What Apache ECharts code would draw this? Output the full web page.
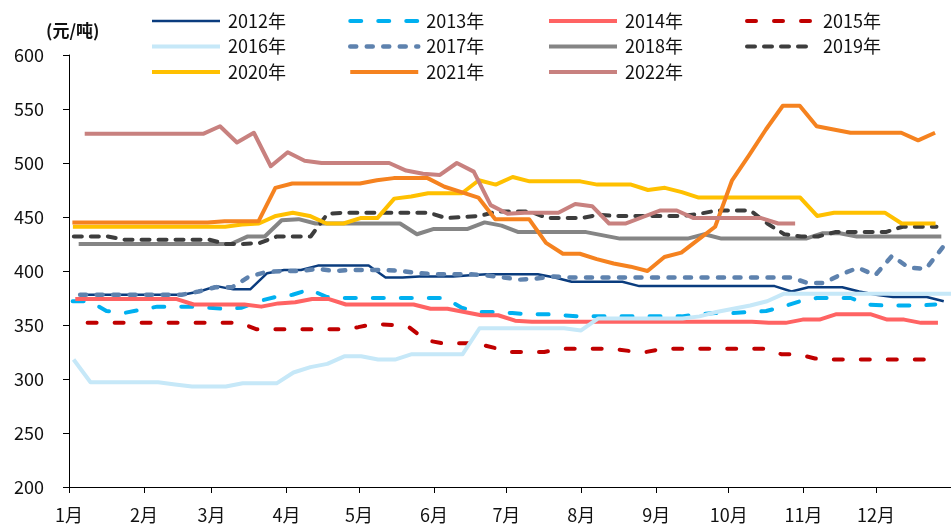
<!DOCTYPE html>
<html>
<head>
<meta charset="utf-8">
<script src="https://cdn.jsdelivr.net/npm/echarts@6/dist/echarts.min.js"></script>
<style>
  html, body { margin: 0; padding: 0; background: #fff; }
  #chart { width: 951px; height: 526px; }
</style>
</head>
<body>
<div id="chart"></div>
<script>
// Month axis: labels and day-of-year where each month starts
const monthLabels = ['1月', '2月', '3月', '4月', '5月', '6月', '7月', '8月', '9月', '10月', '11月', '12月'];
const monthStartDays = [0, 31, 59, 90, 120, 151, 181, 212, 243, 273, 304, 334];

// Year names and day-of-year of each year's first weekly quote
const yearNames = ['2012年', '2013年', '2014年', '2015年', '2016年', '2017年', '2018年', '2019年', '2020年', '2021年', '2022年'];
const firstQuoteDay = [5, 1.5, 2.6, 7.7, 1.9, 4.6, 4, 2, 1.6, 1.4, 6.5];

// Weekly prices (元/吨)
const price2012 = [378, 378, 378, 378, 378, 378, 378, 381, 386, 383, 383, 398, 401, 401, 405, 405, 405, 405, 394, 394, 395, 395, 395, 396, 397, 397, 397, 397, 394, 390, 390, 390, 390, 386, 386, 386, 386, 386, 386, 386, 386, 386, 381, 385, 385, 385, 381, 378, 376, 376, 376, 372];
const price2013 = [372, 372, 363, 361, 364, 367, 367, 367, 366, 365, 366, 372, 376, 378, 383, 376, 375, 375, 375, 375, 375, 375, 375, 366, 362, 362, 361, 360, 360, 359, 358, 358, 358, 358, 358, 358, 358, 360, 361, 361, 362, 363, 367, 372, 375, 375, 375, 369, 368, 368, 368, 369];
const price2014 = [374, 374, 374, 374, 374, 374, 374, 369, 369, 369, 369, 367, 370, 371, 374, 374, 369, 369, 369, 369, 369, 365, 365, 362, 359, 359, 354, 353, 353, 353, 353, 353, 353, 353, 353, 353, 353, 353, 353, 353, 353, 352, 352, 355, 355, 360, 360, 360, 355, 355, 352, 352];
const price2015 = [352, 352, 352, 352, 352, 352, 352, 352, 352, 352, 346, 346, 346, 346, 346, 346, 348, 351, 350, 348, 336, 333, 333, 333, 329, 325, 325, 325, 328, 328, 328, 328, 326, 325, 328, 328, 328, 328, 328, 328, 328, 323, 323, 319, 318, 318, 318, 318, 318, 318, 318];
const price2016 = [318, 297, 297, 297, 297, 297, 295, 293, 293, 293, 296, 296, 296, 306, 311, 314, 321, 321, 318, 318, 323, 323, 323, 323, 347, 347, 347, 347, 347, 347, 345, 356, 356, 356, 356, 356, 356, 358, 362, 365, 368, 372, 379, 379, 379, 379, 379, 379, 379, 379, 379, 379, 379];
const price2017 = [378, 378, 378, 378, 378, 378, 378, 381, 385, 385, 395, 399, 400, 400, 402, 400, 401, 401, 401, 400, 398, 397, 397, 397, 396, 394, 392, 393, 395, 394, 394, 394, 394, 394, 394, 394, 394, 394, 394, 394, 394, 394, 394, 389, 389, 397, 403, 396, 414, 403, 402, 422];
const price2018 = [425, 425, 425, 425, 425, 425, 425, 425, 425, 425, 432, 432, 447, 448, 444, 444, 444, 444, 444, 444, 434, 439, 439, 439, 445, 442, 436, 436, 436, 436, 436, 433, 430, 430, 430, 430, 430, 434, 430, 430, 430, 430, 430, 430, 435, 435, 432, 432, 432, 432, 432, 432];
const price2019 = [432, 432, 432, 429, 429, 429, 429, 429, 429, 425, 425, 426, 432, 432, 432, 453, 454, 454, 454, 454, 454, 454, 449, 450, 451, 455, 455, 455, 449, 449, 449, 452, 451, 451, 451, 451, 451, 453, 456, 456, 456, 444, 434, 432, 432, 436, 436, 436, 436, 441, 441, 441];
const price2020 = [441, 441, 441, 441, 441, 441, 441, 441, 441, 441, 443, 444, 451, 454, 451, 444, 444, 449, 449, 467, 469, 472, 472, 472, 484, 480, 487, 483, 483, 483, 483, 480, 480, 480, 475, 477, 473, 468, 468, 468, 468, 468, 468, 468, 451, 454, 454, 454, 454, 444, 444, 444];
const price2021 = [445, 445, 445, 445, 445, 445, 445, 445, 445, 446, 446, 446, 477, 481, 481, 481, 481, 481, 484, 486, 486, 486, 478, 473, 468, 448, 448, 448, 426, 416, 416, 411, 407, 404, 400, 413, 417, 429, 441, 484, 507, 531, 553, 553, 534, 531, 528, 528, 528, 528, 521, 528];
const price2022 = [527, 527, 527, 527, 527, 527, 527, 527, 534, 519, 528, 497, 510, 502, 500, 500, 500, 500, 500, 493, 490, 489, 500, 492, 461, 453, 454, 454, 454, 462, 460, 444, 444, 450, 456, 456, 449, 449, 449, 449, 449, 444, 444];

const priceByYear = [price2012, price2013, price2014, price2015, price2016, price2017, price2018, price2019, price2020, price2021, price2022];

// Line appearance per year
const lineColors = ['#0A3C7E', '#00B0F0', '#FF6363', '#C00000', '#C6E8F8', '#5E82AE', '#858585', '#3D3D3D', '#FFC000', '#F5821F', '#C8817F'];
const lineWidths = [2.5, 4, 4, 4, 4, 4.5, 4, 4, 4, 4, 4];
const lineDashes = ['solid', [11, 17], 'solid', [9, 18], 'solid', [6, 10.5], 'solid', [8, 9], 'solid', 'solid', 'solid'];

const FONT = '"Noto Sans CJK SC", "Noto Sans", sans-serif';

const series = yearNames.map((name, k) => ({
  name: name,
  type: 'line',
  symbol: 'none',
  showSymbol: false,
  z: 2 + k,
  data: priceByYear[k].map((v, i) => [firstQuoteDay[k] + 7 * i, v]),
  itemStyle: { color: lineColors[k] },
  lineStyle: {
    color: lineColors[k],
    width: lineWidths[k],
    type: lineDashes[k],
    cap: lineDashes[k] === 'solid' ? 'butt' : 'round',
    join: 'round'
  }
}));

// Legend: four columns, read top-to-bottom
const legendColumns = [
  { left: 150, names: ['2012年', '2016年', '2020年'] },
  { left: 348, names: ['2013年', '2017年', '2021年'] },
  { left: 547, names: ['2014年', '2018年', '2022年'] },
  { left: 745, names: ['2015年', '2019年'] }
];
const legends = legendColumns.map(col => ({
  orient: 'vertical',
  left: col.left,
  top: 12,
  padding: 0,
  itemWidth: 68,
  itemHeight: 19,
  itemGap: 7.5,
  selectedMode: false,
  itemStyle: { opacity: 0 },
  lineStyle: { width: 'inherit' },
  data: col.names,
  textStyle: { fontSize: 18, color: '#111', fontFamily: FONT, padding: [0, 0, 0, 3] }
}));

const chart = echarts.init(document.getElementById('chart'), null, { renderer: 'canvas' });
chart.setOption({
  animation: false,
  backgroundColor: '#fff',
  title: {
    text: '(元/吨)',
    left: 46,
    top: 22,
    padding: 0,
    textStyle: { fontSize: 17, fontWeight: 'bold', color: '#111', fontFamily: FONT }
  },
  legend: legends,
  grid: { left: 69, right: 0, top: 55, bottom: 39, containLabel: false },
  xAxis: {
    type: 'value',
    min: 0,
    max: 365,
    splitLine: { show: false },
    axisLine: { show: true, lineStyle: { color: '#000', width: 1 } },
    axisTick: { show: true, inside: false, length: 6, customValues: monthStartDays, lineStyle: { color: '#000' } },
    axisLabel: {
      customValues: monthStartDays,
      formatter: v => monthLabels[monthStartDays.indexOf(v)],
      fontSize: 18,
      color: '#111',
      margin: 19,
      fontFamily: FONT
    }
  },
  yAxis: {
    type: 'value',
    min: 200,
    max: 600,
    interval: 50,
    splitLine: { show: false },
    axisLine: { show: true, lineStyle: { color: '#000', width: 1 } },
    axisTick: { show: true, inside: false, length: 6, lineStyle: { color: '#000' } },
    axisLabel: { fontSize: 18, color: '#111', margin: 25, fontFamily: FONT }
  },
  series: series
});
</script>
</body>
</html>
